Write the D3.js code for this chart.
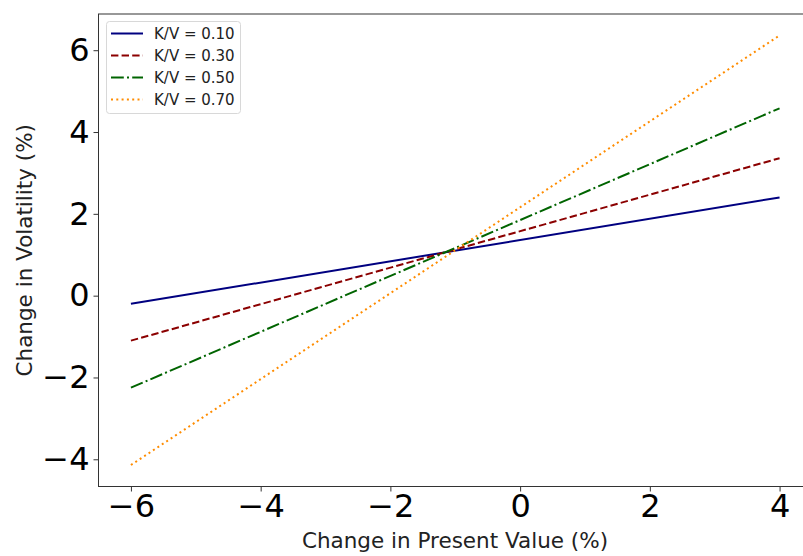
<!DOCTYPE html>
<html>
<head>
<meta charset="utf-8">
<script src="https://cdn.jsdelivr.net/npm/d3@7"></script>
<style>
  html, body { margin: 0; padding: 0; background: #fff; }
  svg { display: block; font-family: "DejaVu Sans", sans-serif; }
</style>
</head>
<body>
<svg id="chart" width="803" height="556"></svg>
<script>
// Sensitivity of volatility to present value for several leverage ratios
const ratioLabels = ["K/V = 0.10", "K/V = 0.30", "K/V = 0.50", "K/V = 0.70"];
const pvChange = [-6, 4];
const volKV10 = [-0.20, 2.40];
const volKV30 = [-1.10, 3.36];
const volKV50 = [-2.25, 4.58];
const volKV70 = [-4.14, 6.36];
const xTicks = [-6, -4, -2, 0, 2, 4];
const yTicks = [-4, -2, 0, 2, 4, 6];

const seriesValues = [volKV10, volKV30, volKV50, volKV70];
const colors = ["#000080", "#8b0000", "#006400", "#ff8c00"];
const dashes = [null, "7.4,3.2", "12.8,3.2,2,3.2", "2,3.3"];

const svg = d3.select("#chart");
const W = 803, H = 556;
const plot = { left: 98.5, top: 14, bottom: 486.5, right: 812 };

// padded extents, 5% on each side
function padded(vals) {
  const lo = d3.min(vals), hi = d3.max(vals), m = (hi - lo) * 0.05;
  return [lo - m, hi + m];
}
const x = d3.scaleLinear().domain(padded(pvChange)).range([plot.left, plot.right]);
const y = d3.scaleLinear().domain(padded(seriesValues.flat())).range([plot.bottom, plot.top]);

// data lines
const line = d3.line().x(d => x(d[0])).y(d => y(d[1]));
seriesValues.forEach((vals, i) => {
  const pts = pvChange.map((v, j) => [v, vals[j]]);
  svg.append("path")
    .attr("d", line(pts))
    .attr("fill", "none")
    .attr("stroke", colors[i])
    .attr("stroke-width", 2)
    .attr("stroke-dasharray", dashes[i]);
});

// axes
const fmt = d => d < 0 ? "\u2212" + Math.abs(d) : String(d);
const xAxis = d3.axisBottom(x).tickValues(xTicks).tickSize(5).tickPadding(3).tickFormat(fmt);
const yAxis = d3.axisLeft(y).tickValues(yTicks).tickSize(5).tickPadding(4).tickFormat(fmt);

const gx = svg.append("g").attr("transform", `translate(0,${plot.bottom})`).call(xAxis);
const gy = svg.append("g").attr("transform", `translate(${plot.left},0)`).call(yAxis);
[gx, gy].forEach(g => {
  g.select(".domain").remove();
  g.selectAll(".tick line").attr("stroke", "#333");
  g.selectAll(".tick text")
    .attr("fill", "#000")
    .style("font-family", "'DejaVu Sans', sans-serif")
    .style("font-size", "32px");
});

// frame (right edge falls outside the canvas)
svg.append("rect")
  .attr("x", plot.left).attr("y", plot.top)
  .attr("width", plot.right - plot.left).attr("height", plot.bottom - plot.top)
  .attr("fill", "none").attr("stroke", "#333").attr("stroke-width", 1);

// axis titles
svg.append("text")
  .attr("x", 455).attr("y", 548)
  .attr("text-anchor", "middle")
  .style("font-size", "21.5px").attr("fill", "#222")
  .text("Change in Present Value (%)");
svg.append("text")
  .attr("transform", `translate(32,${(plot.top + plot.bottom) / 2}) rotate(-90)`)
  .attr("text-anchor", "middle")
  .style("font-size", "21.5px").attr("fill", "#222")
  .text("Change in Volatility (%)");

// legend
const lg = svg.append("g");
lg.append("rect")
  .attr("x", 106.5).attr("y", 21.5).attr("width", 134).attr("height", 92)
  .attr("rx", 3).attr("fill", "#fff").attr("fill-opacity", 0.8)
  .attr("stroke", "#d8d8d8").attr("stroke-width", 1);
ratioLabels.forEach((lab, i) => {
  const cy = 33.5 + i * 22;
  lg.append("line")
    .attr("x1", 111).attr("x2", 143).attr("y1", cy).attr("y2", cy)
    .attr("stroke", colors[i]).attr("stroke-width", 2)
    .attr("stroke-dasharray", dashes[i]);
  lg.append("text")
    .attr("x", 154).attr("y", cy).attr("dy", "0.36em")
    .style("font-size", "15px").attr("fill", "#222")
    .text(lab);
});
</script>
</body>
</html>
